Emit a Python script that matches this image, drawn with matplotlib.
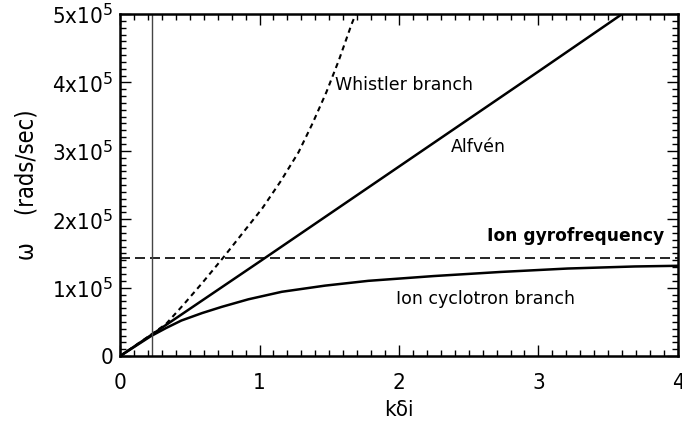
import numpy as np
import matplotlib.pyplot as plt
from matplotlib.ticker import MultipleLocator, FuncFormatter

# 数据
k_whistler = [0.0, 0.22, 0.33, 0.45, 0.59, 0.74, 0.88, 1.02, 1.15, 1.28, 1.38, 1.48,
              1.57, 1.66, 1.69]
w_whistler = [0.0, 0.31e5, 0.47e5, 0.74e5, 1.07e5, 1.44e5, 1.80e5, 2.16e5, 2.55e5, 2.98e5,
              3.40e5, 3.86e5, 4.33e5, 4.85e5, 5.0e5]

k_alfven = [0.0, 1.0, 2.0, 3.0, 3.6]
w_alfven = [0.0, 1.38e5, 2.77e5, 4.16e5, 5.0e5]

k_cyclotron = [0.0, 0.22, 0.33, 0.44, 0.59, 0.73, 0.92, 1.16, 1.47, 1.78, 2.25, 2.73,
               3.21, 3.69, 4.0]
w_cyclotron = [0.0, 0.29e5, 0.41e5, 0.52e5, 0.63e5, 0.72e5, 0.83e5, 0.94e5, 1.03e5, 1.10e5,
               1.17e5, 1.23e5, 1.28e5, 1.31e5, 1.32e5]

gyro_freq = 1.44e5
k_marker = 0.23

tick_font = ['DejaVu Sans']

fig = plt.figure(figsize=(6.82, 4.38), dpi=100)
ax = fig.add_axes([0.176, 0.187, 0.818, 0.781])

ax.plot(k_whistler, w_whistler, color='black', lw=1.5, ls=(0, (2.5, 2)))
ax.plot(k_alfven, w_alfven, color='black', lw=1.8)
ax.plot(k_cyclotron, w_cyclotron, color='black', lw=1.8)
ax.axhline(gyro_freq, color='black', lw=1.2, ls=(0, (6, 3)))
ax.axvline(k_marker, color='#444444', lw=1.0)

ax.text(1.54, 3.96e5, 'Whistler branch', fontsize=12.5, va='center', ha='left')
ax.text(2.37, 3.06e5, 'Alfvén', fontsize=12.5, va='center', ha='left')
ax.text(3.90, 1.75e5, 'Ion gyrofrequency', fontsize=12.3, fontweight='bold', va='center', ha='right')
ax.text(1.98, 0.83e5, 'Ion cyclotron branch', fontsize=12.5, va='center', ha='left')

ax.set_xlim(0, 4)
ax.set_ylim(0, 5e5)
ax.xaxis.set_major_locator(MultipleLocator(1))
ax.xaxis.set_minor_locator(MultipleLocator(0.1))
ax.yaxis.set_major_locator(MultipleLocator(1e5))
ax.yaxis.set_minor_locator(MultipleLocator(1e4))


def ylab(v, pos):
    n = int(round(v / 1e5))
    if n == 0:
        return '0'
    return r'%dx10$^{5}$' % n


ax.yaxis.set_major_formatter(FuncFormatter(ylab))
ax.xaxis.set_major_formatter(FuncFormatter(lambda v, p: '%d' % v))

ax.tick_params(which='both', direction='in', top=True, right=True, width=1.0)
ax.tick_params(which='major', length=8, labelsize=16)
ax.tick_params(which='minor', length=4)
ax.tick_params(axis='x', which='major', pad=12)
ax.tick_params(axis='y', which='major', pad=5)
for lab in ax.get_xticklabels() + ax.get_yticklabels():
    lab.set_family(tick_font)
    lab.set_fontstretch('condensed')
for s in ax.spines.values():
    s.set_linewidth(1.8)

ax.set_xlabel('kδi', fontsize=16, family=tick_font, fontstretch='condensed', labelpad=5)
ax.set_ylabel('ω    (rads/sec)', fontsize=17, family=tick_font, fontstretch='condensed', labelpad=10)

fig.savefig('out.png', dpi=100)
